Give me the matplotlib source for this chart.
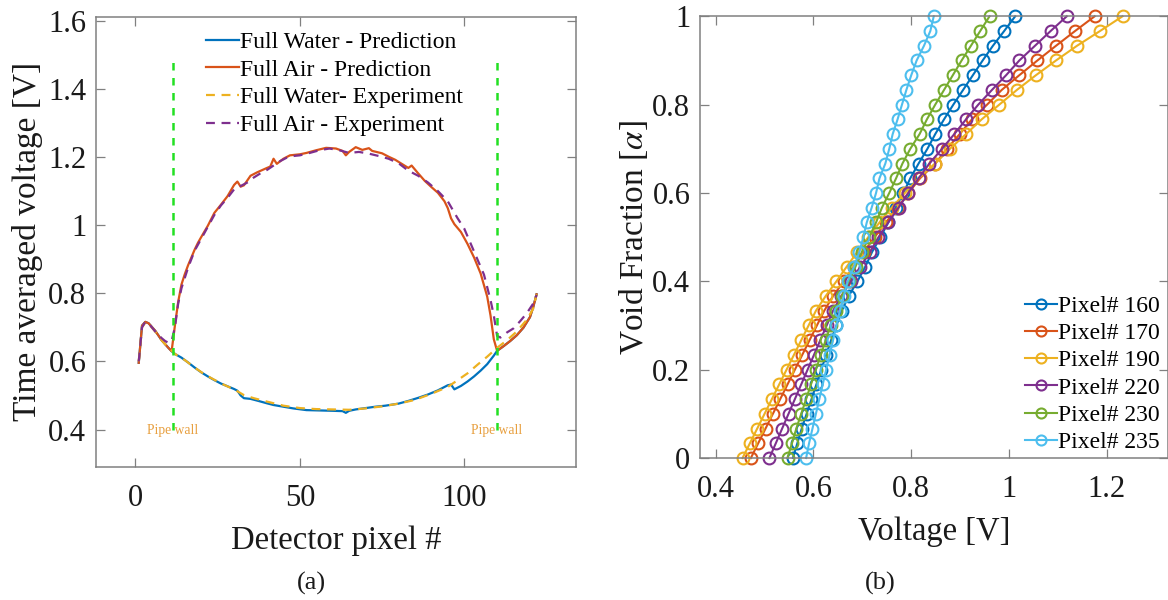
import matplotlib
matplotlib.use("Agg")
import matplotlib.pyplot as plt

plt.rcParams['font.family'] = ['Liberation Serif', 'DejaVu Serif']
plt.rcParams['mathtext.fontset'] = 'stix'

# ---------------- panel (a) data ----------------
water_pred_px = [1, 2, 3, 4, 6, 8, 10, 11, 12, 14, 16, 18, 20, 22, 24, 26, 28, 30, 31, 32,
                 33, 35, 37, 40, 42, 45, 48, 52, 56, 60, 63, 64, 65, 67, 70, 73, 76, 80, 83, 86,
                 89, 92, 95, 96, 97, 99, 101, 103, 105, 107, 109, 110, 112, 114, 116, 118, 120, 121, 122]
water_pred_v = [0.596, 0.705, 0.716, 0.712, 0.690, 0.662, 0.640, 0.630, 0.622, 0.611, 0.597, 0.582, 0.568, 0.556, 0.545, 0.535, 0.527, 0.519, 0.514, 0.500,
                0.492, 0.490, 0.485, 0.477, 0.472, 0.467, 0.462, 0.457, 0.456, 0.455, 0.454, 0.449, 0.455, 0.459, 0.463, 0.467, 0.470, 0.476, 0.484, 0.493,
                0.503, 0.515, 0.530, 0.532, 0.518, 0.528, 0.541, 0.556, 0.573, 0.592, 0.617, 0.631, 0.645, 0.660, 0.677, 0.699, 0.730, 0.760, 0.797]

air_pred_px = [1, 2, 3, 4, 6, 8, 10, 11, 12, 13, 14, 15, 16, 17, 18, 19, 20, 22, 24, 26,
               28, 30, 31, 32, 33, 35, 37, 40, 41, 42, 43, 45, 47, 50, 52, 55, 58, 61, 63, 64,
               65, 67, 69, 71, 72, 75, 77, 79, 81, 83, 84, 86, 88, 90, 92, 94, 95, 96, 97, 99,
               101, 103, 105, 107, 108, 109, 110, 112, 114, 116, 118, 120, 121, 122]
air_pred_v = [0.596, 0.705, 0.716, 0.712, 0.690, 0.662, 0.640, 0.630, 0.705, 0.775, 0.826, 0.856, 0.882, 0.905, 0.928, 0.948, 0.965, 0.998, 1.036, 1.060,
              1.085, 1.118, 1.128, 1.113, 1.117, 1.145, 1.155, 1.168, 1.172, 1.195, 1.180, 1.195, 1.205, 1.208, 1.212, 1.220, 1.227, 1.225, 1.218, 1.205,
              1.215, 1.229, 1.221, 1.226, 1.218, 1.211, 1.201, 1.192, 1.180, 1.168, 1.175, 1.152, 1.130, 1.112, 1.095, 1.070, 1.050, 1.020, 1.003, 0.980,
              0.945, 0.905, 0.858, 0.790, 0.735, 0.665, 0.631, 0.645, 0.660, 0.677, 0.699, 0.730, 0.760, 0.797]

water_exp_px = [1, 2, 3, 4, 6, 8, 10, 11, 12, 15, 18, 21, 24, 27, 30, 33, 36, 40, 45, 50,
                55, 60, 65, 70, 75, 80, 85, 90, 95, 98, 101, 104, 107, 110, 113, 116, 119, 121, 122]
water_exp_v = [0.600, 0.700, 0.714, 0.710, 0.688, 0.662, 0.640, 0.632, 0.622, 0.604, 0.582, 0.562, 0.546, 0.531, 0.518, 0.501, 0.492, 0.482, 0.470, 0.463,
               0.460, 0.459, 0.458, 0.462, 0.468, 0.476, 0.487, 0.505, 0.525, 0.545, 0.565, 0.590, 0.614, 0.640, 0.662, 0.688, 0.722, 0.755, 0.797]

air_exp_px = [1, 2, 3, 4, 6, 8, 9, 10, 11, 12, 13, 14, 16, 18, 20, 22, 24, 26, 28, 30,
              32, 34, 36, 38, 40, 42, 44, 46, 48, 50, 53, 56, 59, 62, 65, 68, 71, 74, 77, 80,
              83, 86, 89, 92, 95, 98, 100, 102, 104, 106, 108, 109, 110, 111, 113, 115, 117, 119, 121, 122]
air_exp_v = [0.600, 0.700, 0.716, 0.712, 0.688, 0.668, 0.660, 0.655, 0.660, 0.700, 0.770, 0.815, 0.875, 0.925, 0.960, 0.995, 1.030, 1.058, 1.080, 1.105,
             1.115, 1.125, 1.140, 1.152, 1.162, 1.175, 1.188, 1.198, 1.203, 1.205, 1.212, 1.220, 1.225, 1.220, 1.212, 1.215, 1.210, 1.203, 1.195, 1.182,
             1.160, 1.145, 1.125, 1.100, 1.070, 1.020, 0.990, 0.945, 0.900, 0.855, 0.780, 0.735, 0.675, 0.670, 0.685, 0.697, 0.718, 0.741, 0.770, 0.795]

pipe_walls = [11.3, 110.0]
a_labels = ["Full Water - Prediction", "Full Air - Prediction",
            "Full Water- Experiment", "Full Air - Experiment"]

# ---------------- panel (b) data ----------------
void_fraction = [0, 0.0333, 0.0667, 0.1, 0.1333, 0.1667, 0.2, 0.2333, 0.2667, 0.3, 0.3333,
                 0.3667, 0.4, 0.4333, 0.4667, 0.5, 0.5333, 0.5667, 0.6, 0.6333, 0.6667,
                 0.7, 0.7333, 0.7667, 0.8, 0.8333, 0.8667, 0.9, 0.9333, 0.9667, 1.0]
v_px160 = [0.558, 0.567, 0.576, 0.586, 0.596, 0.606, 0.616, 0.626, 0.636, 0.647, 0.658,
           0.672, 0.690, 0.706, 0.720, 0.737, 0.753, 0.768, 0.784, 0.798, 0.815,
           0.833, 0.849, 0.867, 0.886, 0.906, 0.926, 0.946, 0.967, 0.990, 1.0125]
v_px170 = [0.472, 0.487, 0.502, 0.517, 0.532, 0.547, 0.562, 0.577, 0.592, 0.607, 0.622,
           0.640, 0.662, 0.682, 0.703, 0.725, 0.748, 0.772, 0.794, 0.818, 0.849,
           0.873, 0.899, 0.924, 0.955, 0.985, 1.021, 1.058, 1.096, 1.135, 1.175]
v_px190 = [0.455, 0.470, 0.485, 0.500, 0.515, 0.530, 0.545, 0.560, 0.575, 0.590, 0.605,
           0.625, 0.647, 0.668, 0.690, 0.712, 0.735, 0.760, 0.787, 0.815, 0.849,
           0.879, 0.912, 0.944, 0.980, 1.016, 1.055, 1.096, 1.139, 1.186, 1.232]
v_px220 = [0.510, 0.523, 0.536, 0.549, 0.562, 0.575, 0.588, 0.601, 0.614, 0.627, 0.640,
           0.657, 0.676, 0.696, 0.716, 0.733, 0.753, 0.774, 0.794, 0.815, 0.837,
           0.863, 0.888, 0.912, 0.937, 0.965, 0.994, 1.021, 1.053, 1.085, 1.118]
v_px230 = [0.547, 0.556, 0.565, 0.575, 0.585, 0.595, 0.605, 0.615, 0.625, 0.635, 0.646,
           0.658, 0.672, 0.686, 0.699, 0.714, 0.728, 0.740, 0.755, 0.769, 0.782,
           0.798, 0.817, 0.832, 0.849, 0.867, 0.885, 0.903, 0.922, 0.941, 0.960]
v_px235 = [0.585, 0.591, 0.598, 0.605, 0.612, 0.619, 0.626, 0.633, 0.640, 0.647, 0.654,
           0.662, 0.670, 0.683, 0.694, 0.702, 0.709, 0.719, 0.728, 0.735, 0.747,
           0.755, 0.762, 0.772, 0.781, 0.790, 0.800, 0.811, 0.826, 0.839, 0.846]
b_labels = ["Pixel# 160", "Pixel# 170", "Pixel# 190", "Pixel# 220", "Pixel# 230", "Pixel# 235"]

# ---------------- styling ----------------
C_BLUE, C_ORANGE, C_YELLOW = '#0072BD', '#D95319', '#EDB120'
C_PURPLE, C_GREEN, C_CYAN = '#7E2F8E', '#77AC30', '#4DBEEE'
SPINE = '#808080'
TXT = '#1a1a1a'
W, H = 1168, 600

fig = plt.figure(figsize=(W / 100, H / 100), dpi=100)

def style_axes(ax):
    for s in ax.spines.values():
        s.set_color(SPINE)
        s.set_linewidth(1.1)
    ax.tick_params(direction='in', length=6.5, width=0.9, color=SPINE,
                   top=True, right=True, labelsize=22, labelcolor=TXT)
    ax.tick_params(axis='x', pad=12)
    ax.tick_params(axis='y', pad=7)

# panel (a)
ax1 = fig.add_axes([96 / W, 1 - 467 / H, 480 / W, (467 - 16.7) / H])
ax1.plot(water_pred_px, water_pred_v, color=C_BLUE, lw=1.6, label=a_labels[0])
ax1.plot(air_pred_px, air_pred_v, color=C_ORANGE, lw=1.6, label=a_labels[1])
ax1.plot(water_exp_px, water_exp_v, color=C_YELLOW, lw=1.6, ls=(0, (4, 3)), label=a_labels[2])
ax1.plot(air_exp_px, air_exp_v, color=C_PURPLE, lw=1.6, ls=(0, (4, 3)), label=a_labels[3])
for xw in pipe_walls:
    ax1.plot([xw, xw], [0.4, 1.5], color='#22e022', lw=1.8, ls=(0, (3, 3)))
    ax1.text(xw, 0.398, 'Pipe wall', color='#E8A040', fontsize=9.8,
             ha='center', va='center')
ax1.set_xlim(-12, 134)
ax1.set_ylim(0.29, 1.612)
ax1.set_xticks([0, 50, 100])
ax1.set_yticks([0.4, 0.6, 0.8, 1.0, 1.2, 1.4, 1.6])
ax1.set_yticklabels(['0.4', '0.6', '0.8', '1', '1.2', '1.4', '1.6'])
style_axes(ax1)
ax1.set_xlabel('Detector pixel #', fontsize=23.5, color=TXT, labelpad=9)
ax1.set_ylabel('Time averaged voltage [V]', fontsize=24, color=TXT, labelpad=4)
ax1.legend(loc='upper left', bbox_to_anchor=(206 / W, 1 - 31.5 / H), bbox_transform=fig.transFigure,
           frameon=False, fontsize=17, handlelength=1.4, handletextpad=0.05,
           labelspacing=0.26, borderpad=0, borderaxespad=0)

# panel (b)
ax2 = fig.add_axes([700 / W, 1 - 458 / H, 468 / W, (458 - 16.3) / H])
series_b = [(v_px160, C_BLUE), (v_px170, C_ORANGE), (v_px190, C_YELLOW),
            (v_px220, C_PURPLE), (v_px230, C_GREEN), (v_px235, C_CYAN)]
for (vals, col), lab in zip(series_b, b_labels):
    ax2.plot(vals, void_fraction, color=col, lw=1.5, marker='o', ms=8.5, mfc='none',
             mec=col, mew=1.5, label=lab, clip_on=False)
ax2.set_xlim(0.368, 1.325)
ax2.set_ylim(0, 1)
ax2.set_xticks([0.4, 0.6, 0.8, 1.0, 1.2])
ax2.set_xticklabels(['0.4', '0.6', '0.8', '1', '1.2'])
ax2.set_yticks([0, 0.2, 0.4, 0.6, 0.8, 1.0])
ax2.set_yticklabels(['0', '0.2', '0.4', '0.6', '0.8', '1'])
style_axes(ax2)
ax2.set_xlabel('Voltage [V]', fontsize=23.5, color=TXT, labelpad=9)
ax2.set_ylabel(r'Void Fraction [$\alpha$]', fontsize=24, color=TXT, labelpad=2)
ax2.legend(loc='upper left', bbox_to_anchor=(1025 / W, 1 - 295.5 / H), bbox_transform=fig.transFigure,
           frameon=False, fontsize=17, handlelength=1.35, handletextpad=0.05,
           labelspacing=0.24, borderpad=0, borderaxespad=0, markerscale=0.85)

fig.text(311 / W, 1 - 583 / H, '(a)', fontsize=19, ha='center', va='center', color=TXT)
fig.text(880 / W, 1 - 583 / H, '(b)', fontsize=19, ha='center', va='center', color=TXT)

fig.savefig('out.png', dpi=100)
